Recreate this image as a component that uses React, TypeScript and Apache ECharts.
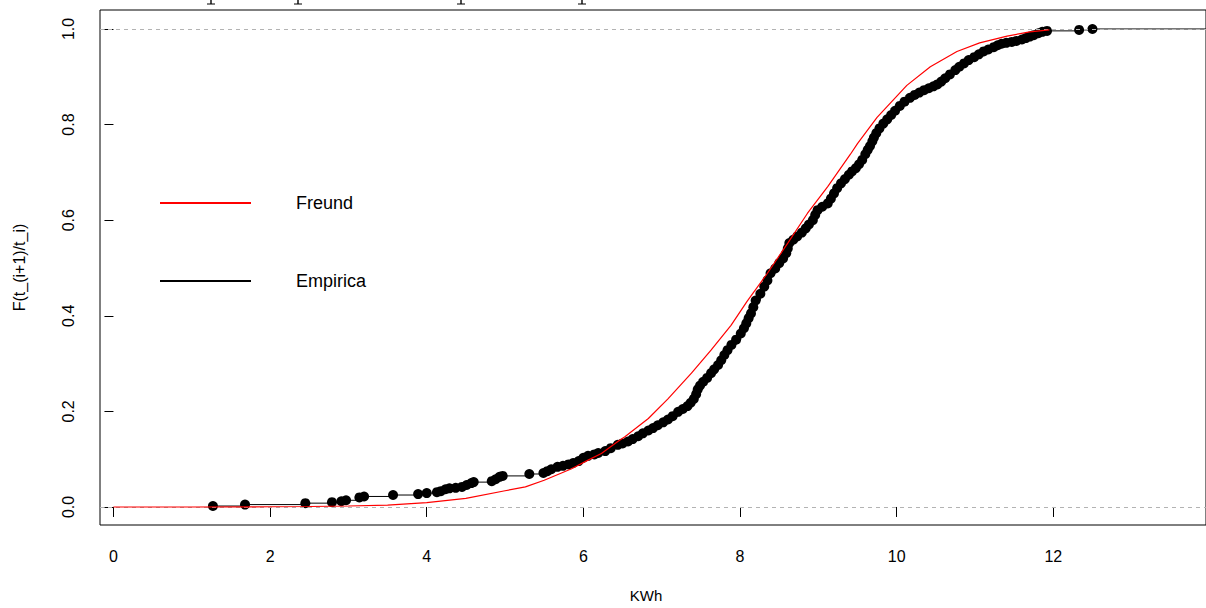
import React, { useEffect, useRef } from "react";
import * as echarts from "echarts";

// Empirical CDF points (KWh, F)
const empX = [
  1.27, 1.68, 2.45, 2.79, 2.91, 2.97, 3.14, 3.2, 3.57, 3.89, 4.0, 4.13, 4.18, 4.24, 4.29, 4.37, 4.45, 4.51, 4.57, 4.6,
  4.83, 4.88, 4.93, 4.97, 5.31, 5.49, 5.54, 5.59, 5.67, 5.74, 5.81, 5.87, 5.94, 6.0, 6.06, 6.14, 6.19, 6.28, 6.35, 6.44,
  6.5, 6.57, 6.63, 6.7, 6.76, 6.83, 6.89, 6.95, 7.02, 7.08, 7.14, 7.21, 7.27, 7.33, 7.37, 7.41, 7.44, 7.46, 7.49, 7.53,
  7.58, 7.63, 7.67, 7.72, 7.76, 7.8, 7.84, 7.89, 7.95, 8.01, 8.05, 8.08, 8.11, 8.14, 8.17, 8.2, 8.26, 8.31, 8.35, 8.39,
  8.45, 8.5, 8.55, 8.59, 8.61, 8.63, 8.68, 8.73, 8.79, 8.84, 8.88, 8.93, 8.96, 8.99, 9.05, 9.12, 9.16, 9.2, 9.24, 9.29,
  9.34, 9.39, 9.43, 9.48, 9.52, 9.56, 9.6, 9.63, 9.66, 9.69, 9.71, 9.74, 9.78, 9.83, 9.88, 9.93, 9.98, 10.04, 10.1, 10.17,
  10.23, 10.29, 10.35, 10.41, 10.47, 10.52, 10.57, 10.62, 10.68, 10.75, 10.8, 10.86, 10.92, 10.99, 11.05, 11.11, 11.17,
  11.24, 11.29, 11.34, 11.4, 11.47, 11.53, 11.6, 11.65, 11.7, 11.75, 11.81, 11.86, 11.92, 12.33, 12.5,
];
const empF = [
  0.002, 0.005, 0.008, 0.01, 0.012, 0.014, 0.02, 0.022, 0.025, 0.027, 0.029, 0.031, 0.033, 0.037, 0.039, 0.04, 0.042, 0.046, 0.05, 0.052,
  0.054, 0.058, 0.063, 0.065, 0.069, 0.071, 0.075, 0.079, 0.084, 0.086, 0.089, 0.092, 0.096, 0.103, 0.107, 0.11, 0.113, 0.117, 0.123, 0.13,
  0.133, 0.137, 0.142, 0.148, 0.154, 0.16, 0.165, 0.171, 0.177, 0.183, 0.19, 0.199, 0.205, 0.211, 0.218, 0.226, 0.236, 0.246, 0.254, 0.262,
  0.27, 0.28, 0.288, 0.297, 0.307, 0.318, 0.328, 0.339, 0.35, 0.363, 0.374, 0.384, 0.395, 0.405, 0.418, 0.432, 0.446, 0.461, 0.474, 0.489,
  0.499, 0.51, 0.52, 0.531, 0.541, 0.552, 0.559, 0.566, 0.574, 0.583, 0.591, 0.6, 0.611, 0.621, 0.628, 0.635, 0.645, 0.656, 0.667, 0.677,
  0.686, 0.695, 0.702, 0.709, 0.717, 0.726, 0.738, 0.747, 0.755, 0.765, 0.773, 0.782, 0.792, 0.802, 0.811, 0.82, 0.829, 0.839, 0.848, 0.856,
  0.862, 0.867, 0.872, 0.876, 0.88, 0.884, 0.89, 0.897, 0.905, 0.914, 0.921, 0.928, 0.935, 0.941, 0.947, 0.953, 0.957,
  0.962, 0.966, 0.969, 0.971, 0.973, 0.975, 0.978, 0.981, 0.984, 0.987, 0.991, 0.994, 0.996, 0.998, 1.0,
];

// Fitted Freund CDF
const freundX = [0, 1, 2, 2.5, 3, 3.5, 4, 4.5, 5, 5.26, 5.5, 5.85, 6.06, 6.23, 6.44, 6.53, 6.83, 7.08, 7.38, 7.63, 7.885, 8.09, 8.35, 8.61, 8.86, 9.12, 9.41, 9.5, 9.75, 10.13, 10.43, 10.77, 11.06, 11.41, 11.7, 11.95];
const freundF = [0, 0, 0.0005, 0.001, 0.002, 0.004, 0.009, 0.018, 0.034, 0.042, 0.056, 0.08, 0.098, 0.112, 0.137, 0.147, 0.185, 0.226, 0.28, 0.328, 0.38, 0.43, 0.489, 0.552, 0.614, 0.67, 0.738, 0.76, 0.815, 0.882, 0.921, 0.953, 0.971, 0.985, 0.994, 0.998];

const xTicks = [0, 2, 4, 6, 8, 10, 12];
const yTicks = [0, 0.2, 0.4, 0.6, 0.8, 1.0];
const refLines = [0, 1];

const X_MIN = -0.1718;
const X_MAX = 13.95;
const Y_MIN = -0.0377;
const Y_MAX = 1.0397;

const FONT = "'Liberation Sans', Arial, sans-serif";

export default function App() {
  const ref = useRef<HTMLDivElement>(null);
  useEffect(() => {
    if (!ref.current) return;
    const chart = echarts.init(ref.current, null, { renderer: "svg" });
    const emp = empX.map((x, i) => [x, empF[i]]);
    const fr = freundX.map((x, i) => [x, freundF[i]]);
    const lastX = empX[empX.length - 1];
    const frag = (x: number) => [
      { type: "line", shape: { x1: x, y1: 0, x2: x, y2: 4 }, style: { stroke: "#000", lineWidth: 1.4 } },
      { type: "line", shape: { x1: x - 4, y1: 4, x2: x + 4, y2: 4 }, style: { stroke: "#000", lineWidth: 1 } },
    ];
    chart.setOption({
      animation: false,
      textStyle: { fontFamily: FONT },
      grid: { left: 100, top: 10, right: -4, bottom: 83, show: true, borderColor: "#000", borderWidth: 1 },
      legend: {
        data: [
          { name: "Freund", icon: "rect" },
          { name: "Empirica", icon: "rect" },
        ],
        orient: "vertical",
        left: 160,
        top: 194,
        padding: 0,
        itemWidth: 91,
        itemHeight: 2,
        itemGap: 60,
        selectedMode: false,
        formatter: (n: string) => `{t|${n}}`,
        textStyle: { fontFamily: FONT, rich: { t: { fontSize: 18, color: "#000", padding: [0, 0, 0, 40], fontFamily: FONT } } },
      },
      xAxis: {
        type: "value",
        min: X_MIN,
        max: X_MAX,
        name: "KWh",
        nameLocation: "middle",
        nameGap: 63,
        nameTextStyle: { fontSize: 15, color: "#000", padding: [0, 14, 0, 0], fontFamily: FONT },
        axisLine: { show: false },
        axisTick: { show: true, length: 10, customValues: xTicks, lineStyle: { color: "#000" } },
        axisLabel: { customValues: xTicks, margin: 23, fontSize: 16, color: "#000", fontFamily: FONT },
        splitLine: { show: false },
      },
      yAxis: {
        type: "value",
        min: Y_MIN,
        max: Y_MAX,
        name: "F(t_(i+1)/t_i)",
        nameLocation: "middle",
        nameGap: 73,
        nameTextStyle: { fontSize: 16, color: "#000", fontFamily: FONT },
        axisLine: { show: false },
        axisTick: { show: true, length: 9, customValues: yTicks, lineStyle: { color: "#000" } },
        axisLabel: {
          customValues: yTicks,
          rotate: 90,
          margin: 24,
          fontSize: 16,
          color: "#000",
          fontFamily: FONT,
          formatter: (v: number) => v.toFixed(1),
        },
        splitLine: { show: false },
      },
      graphic: [...frag(211), ...frag(298), ...frag(461), ...frag(582)],
      series: [
        {
          name: "Empirica",
          type: "line",
          color: "#000",
          step: "end",
          data: emp,
          symbol: "circle",
          symbolSize: 10,
          showSymbol: true,
          itemStyle: { color: "#000" },
          lineStyle: { color: "#000", width: 1 },
          z: 2,
        },
        {
          name: "EmpiricaTail",
          type: "line",
          data: [
            [lastX, 1],
            [X_MAX, 1],
          ],
          symbol: "none",
          lineStyle: { color: "#000", width: 1 },
          z: 2,
          markLine: {
            silent: true,
            symbol: ["none", "none"],
            label: { show: false },
            lineStyle: { color: "#b3b3b3", type: [4, 4], width: 1 },
            data: refLines.map((v) => ({ yAxis: v })),
            z: 5,
          },
        },
        {
          name: "Freund",
          type: "line",
          color: "#ff0000",
          data: fr,
          symbol: "none",
          lineStyle: { color: "#ff0000", width: 1.2 },
          z: 6,
        },
      ],
    });
    return () => chart.dispose();
  }, []);
  return <div ref={ref} style={{ position: "fixed", left: 0, top: 0, width: 1206, height: 608, background: "#fff" }} />;
}
